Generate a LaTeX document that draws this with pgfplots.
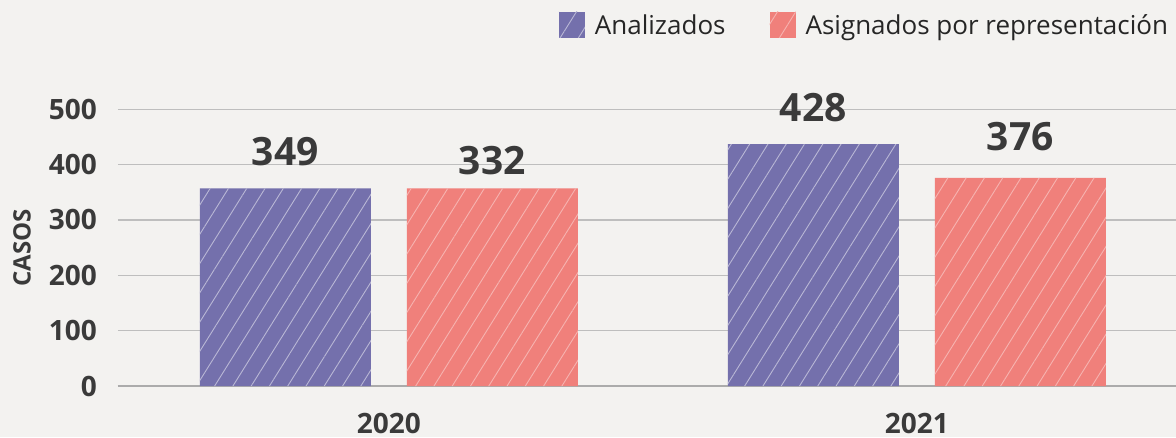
\documentclass[border=0pt]{standalone}
\usepackage{fontspec}
\setmainfont{Open Sans}
\usepackage{pgfplots}
\pgfplotsset{compat=1.18}
\usepackage{pgfplotstable}
\usetikzlibrary{patterns.meta}

\definecolor{bgcol}{RGB}{243,242,240}
\definecolor{purp}{RGB}{116,112,172}
\definecolor{salm}{RGB}{240,128,123}
\definecolor{gridc}{RGB}{190,190,190}
\definecolor{txt}{RGB}{58,58,58}

% bar heights as drawn (h) and the printed values (v)
\pgfplotstableread{
x h v
0 357 349
1 437 428
}\analizados
\pgfplotstableread{
x h v
0 357 332
1 376 376
}\asignados

\tikzset{hatch/.style={postaction={pattern color=#1,
  pattern={Lines[angle=58,distance=15.5pt,line width=0.9pt]}}}}

\begin{document}
\begin{tikzpicture}
\useasboundingbox (0,0) rectangle (1176pt,437pt);
\fill[bgcol] (0,0) rectangle (1176pt,437pt);
\begin{axis}[
    at={(118pt,51pt)}, anchor=south west,
    scale only axis, width=1058pt, height=276.7pt,
    xmin=-0.513, xmax=1.491, ymin=0, ymax=500,
    clip=false,
    axis line style={draw=none},
    tick style={draw=none},
    ytick={0,100,...,500},
    xtick={0,1}, xticklabels={2020,2021},
    ymajorgrids, grid style={gridc, line width=1.3pt},
    extra y ticks={0}, extra y tick labels={},
    extra y tick style={grid style={gridc!90!black, line width=2.2pt}},
    /pgf/number format/assume math mode=true,
    ticklabel style={font=\fontsize{28}{32}\selectfont\bfseries, text=txt, inner sep=0pt},
    yticklabel style={xshift=-21pt},
    xticklabel style={anchor=north, yshift=-27pt},
    ylabel={CASOS},
    ylabel style={at={(axis description cs:-0.0907,0.5)}, anchor=center,
      font=\fontsize{24}{28}\selectfont\bfseries, text=txt},
    legend columns=2,
    legend style={draw=none, fill=none, inner sep=0pt, outer sep=0pt,
      at={(0.9924,1.3047)}, anchor=east,
      font=\fontsize{26}{30}\selectfont, text=black!85,
      nodes={inner sep=0pt},
      /tikz/every odd column/.append style={column sep=10pt},
      /tikz/every even column/.append style={column sep=44pt}},
    legend image code/.code={\draw[#1, draw=none] (0pt,-13pt) rectangle (26pt,13pt);},
    nodes near coords style={font=\fontsize{39}{44}\selectfont\bfseries, text=txt,
      anchor=south, inner sep=0pt, yshift=27pt},
]
\addplot[ybar, bar width=171pt, bar shift=-103.5pt, fill=purp, draw=none,
  hatch=white!50!purp] table[x=x, y=h] {\analizados};
\addlegendentry{Analizados}
\addplot[ybar, bar width=171pt, bar shift=103.5pt, fill=salm, draw=none,
  hatch=white!40!salm] table[x=x, y=h] {\asignados};
\addlegendentry{Asignados por representación}
% printed values, placed above the value they state
\addplot[draw=none, mark=none, forget plot, nodes near coords,
  every node near coord/.append style={xshift=-103.5pt}]
  table[x=x, y=v] {\analizados};
\addplot[draw=none, mark=none, forget plot, nodes near coords,
  every node near coord/.append style={xshift=103.5pt}]
  table[x=x, y=v] {\asignados};
\end{axis}
\end{tikzpicture}
\end{document}
